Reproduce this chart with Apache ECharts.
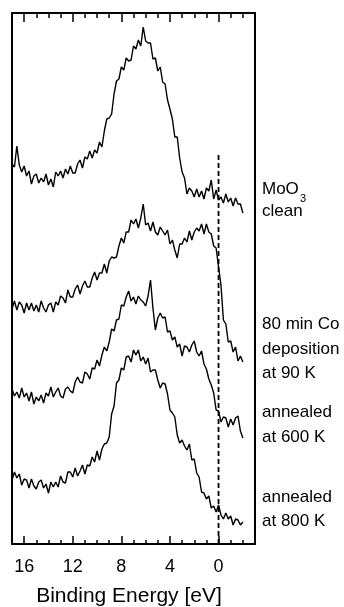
<!DOCTYPE html>
<html>
<head>
<meta charset="utf-8">
<script src="https://cdn.jsdelivr.net/npm/echarts@6/dist/echarts.min.js"></script>
<style>
  html, body { margin: 0; padding: 0; background: #fff; }
  #chart { width: 344px; height: 607px; }
</style>
</head>
<body>
<div id="chart"></div>
<script>
// Binding energy grid (eV), high to low
const energies = [
  17.0,16.8,16.6,16.4,16.2,16.0,15.8,15.6,15.4,15.2,
  15.0,14.8,14.6,14.4,14.2,14.0,13.8,13.6,13.4,13.2,
  13.0,12.8,12.6,12.4,12.2,12.0,11.8,11.6,11.4,11.2,
  11.0,10.8,10.6,10.4,10.2,10.0,9.8,9.6,9.4,9.2,
  9.0,8.8,8.6,8.4,8.2,8.0,7.8,7.6,7.4,7.2,
  7.0,6.8,6.6,6.4,6.2,6.0,5.8,5.6,5.4,5.2,
  5.0,4.8,4.6,4.4,4.2,4.0,3.8,3.6,3.4,3.2,
  3.0,2.8,2.6,2.4,2.2,2.0,1.8,1.6,1.4,1.2,
  1.0,0.8,0.6,0.4,0.2,0.0,-0.2,-0.4,-0.6,-0.8,
  -1.0,-1.2,-1.4,-1.6,-1.8,-2.0
];

// Photoemission intensity (arb. units, stacked with vertical offsets)
const moo3Clean = [
  380,377,398,379,372,378,368,373,360,368,
  370,361,366,362,370,359,365,357,372,368,
  373,366,375,370,378,371,371,380,384,376,
  387,385,393,386,394,391,402,397,413,425,
  426,430,450,463,465,477,474,486,483,484,
  498,495,504,498,517,503,501,501,485,486,
  473,477,462,460,444,435,425,407,407,386,
  372,366,350,356,353,347,355,347,353,345,
  356,353,364,345,354,344,347,341,350,342,
  346,338,346,340,340,331
];

const coDeposition90K = [
  235,243,234,242,239,231,241,234,241,233,
  239,232,243,236,232,239,241,232,242,239,
  248,246,241,254,247,247,255,259,250,258,
  263,257,257,266,272,264,271,271,280,271,
  283,287,286,287,298,306,301,312,312,324,
  320,325,316,326,340,319,321,313,322,312,
  309,317,313,309,314,300,304,294,286,300,
  300,306,302,313,304,312,316,313,320,310,
  320,312,310,298,296,277,259,224,220,202,
  203,192,197,183,188,182
];

const annealed600K = [
  155,148,152,146,156,147,151,143,152,140,
  147,143,149,141,151,148,157,147,152,156,
  148,146,155,157,153,151,162,167,162,161,
  172,170,165,176,175,184,178,189,197,193,
  202,215,213,224,225,239,238,247,253,243,
  247,240,248,244,242,238,248,264,236,214,
  226,231,226,227,212,213,204,207,197,200,
  188,198,197,192,199,203,192,188,193,180,
  175,165,159,151,134,133,122,127,126,117,
  125,119,126,128,113,106
];

const annealed800K = [
  64,72,66,70,59,65,64,56,65,58,
  55,62,64,56,60,51,62,57,62,57,
  68,62,61,72,72,67,76,68,73,79,
  70,79,78,87,82,93,84,95,100,101,
  107,130,138,161,164,176,174,187,188,182,
  194,189,194,183,187,180,186,172,174,174,
  164,156,161,160,150,134,131,127,109,101,
  104,98,94,100,84,85,71,67,52,51,
  45,48,36,38,32,39,29,25,31,25,
  28,19,25,24,19,22
];

// Axis ticks (eV)
const majorTicks = [16, 12, 8, 4, 0];
const minorTicks = [15, 14, 13, 11, 10, 9, 7, 6, 5, 3, 2, 1, -1, -2];
const energyRange = [-3, 17];
const intensityRange = [0, 531];
const fermiLineTop = 389;

// Spectrum labels, one entry per line
const labelLines = [
  { text: 'clean', y: 211 },
  { text: '80 min Co', y: 324 },
  { text: 'deposition', y: 349 },
  { text: 'at 90 K', y: 373 },
  { text: 'annealed', y: 412 },
  { text: 'at 600 K', y: 437 },
  { text: 'annealed', y: 497 },
  { text: 'at 800 K', y: 521 }
];

const FONT = "'Liberation Sans', Arial, Helvetica, sans-serif";
const pair = arr => energies.map((e, i) => [e, arr[i]]);

function xAxisDef(position, ticks, len, showLabel, showLine) {
  return {
    type: 'value', position, inverse: true,
    min: energyRange[0], max: energyRange[1],
    splitLine: { show: false },
    axisLine: { show: showLine, onZero: false, lineStyle: { color: '#000', width: 2 } },
    axisTick: { show: true, inside: true, length: len, customValues: ticks,
                lineStyle: { color: '#000', width: 1.5 } },
    axisLabel: { show: showLabel, customValues: ticks, color: '#000',
                 fontSize: 18, fontFamily: FONT, margin: 14 }
  };
}

function yAxisDef(position) {
  return {
    type: 'value', position, min: intensityRange[0], max: intensityRange[1],
    splitLine: { show: false }, axisTick: { show: false }, axisLabel: { show: false },
    axisLine: { show: true, onZero: false, lineStyle: { color: '#000', width: 2 } }
  };
}

function spectrum(data) {
  return {
    type: 'line', data: pair(data), showSymbol: false, animation: false,
    lineStyle: { color: '#000', width: 1.4 }, z: 3
  };
}

const chart = echarts.init(document.getElementById('chart'), null, { renderer: 'canvas' });
chart.setOption({
  backgroundColor: '#fff',
  animation: false,
  grid: { left: 12, right: 89, top: 13, bottom: 63 },
  xAxis: [
    xAxisDef('bottom', majorTicks, 8, true, true),
    xAxisDef('bottom', minorTicks, 4, false, false),
    xAxisDef('top', majorTicks, 9, false, true),
    xAxisDef('top', minorTicks, 5, false, false)
  ],
  yAxis: [yAxisDef('left'), yAxisDef('right')],
  series: [
    spectrum(moo3Clean),
    spectrum(coDeposition90K),
    spectrum(annealed600K),
    spectrum(annealed800K),
    {
      type: 'line', data: [[0, 0], [0, fermiLineTop]], showSymbol: false,
      lineStyle: { color: '#000', width: 1.8, type: [5, 3] }, z: 2
    }
  ],
  graphic: [
    { type: 'text', x: 262, y: 189, style: { text: 'MoO', fill: '#000',
      font: '17px ' + FONT, verticalAlign: 'middle' } },
    { type: 'text', x: 300, y: 199, style: { text: '3', fill: '#000',
      font: '11px ' + FONT, verticalAlign: 'middle' } },
    ...labelLines.map(l => ({
      type: 'text', x: 262, y: l.y,
      style: { text: l.text, fill: '#000', font: '17px ' + FONT, verticalAlign: 'middle' }
    })),
    { type: 'text', x: 129, y: 596, style: { text: 'Binding Energy [eV]', fill: '#000',
      font: '21px ' + FONT, align: 'center', verticalAlign: 'middle' } }
  ]
});
</script>
</body>
</html>
